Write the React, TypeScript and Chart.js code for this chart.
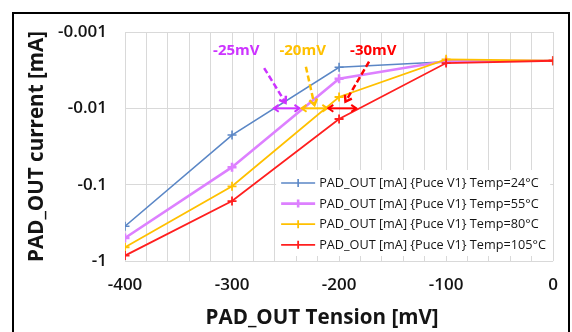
import React, { useEffect, useRef } from 'react';
import { Chart, registerables } from 'chart.js';

Chart.register(...registerables);

// ---- data ----
const tensionMv = [-400, -300, -200, -100, 0];
const seriesLabels = [
  'PAD_OUT [mA] {Puce V1} Temp=24°C',
  'PAD_OUT [mA] {Puce V1} Temp=55°C',
  'PAD_OUT [mA] {Puce V1} Temp=80°C',
  'PAD_OUT [mA] {Puce V1} Temp=105°C',
];
const current24 = [-0.35, -0.0224, -0.0029, -0.00245, -0.00238];
const current55 = [-0.5, -0.059, -0.0041, -0.0024, -0.00238];
const current80 = [-0.66, -0.105, -0.0071, -0.00228, -0.00238];
const current105 = [-0.85, -0.164, -0.0138, -0.00255, -0.00238];
const seriesColors = ['#5B87C6', '#DD80FF', '#FFC000', '#FF1F1F'];
const seriesWidths = [1.6, 2.6, 1.8, 1.8];

const yTickValues = [-0.001, -0.01, -0.1, -1];
const xLabelStep = 100;
const xGridStep = 20;

// annotations (data units: mV, mA)
const annotationTexts = ['-25mV', '-20mV', '-30mV'];
const annotationColors = ['#CC33FF', '#FFC000', '#FF0000'];
const textPosMv = [-296, -234, -168];
const textPosMa = -0.00176;
const pointerFromMv = [-270, -231, -172];
const pointerFromMa = [-0.00297, -0.00285, -0.00245];
const pointerToMv = [-250, -223, -194];
const pointerToMa = [-0.00845, -0.00906, -0.00819];
const spanStartMv = [-261, -235, -210];
const spanEndMv = [-237, -211, -184];
const spanMa = -0.01;

const xTitle = 'PAD_OUT Tension [mV]';
const yTitle = 'PAD_OUT current [mA]';

const FONT = '"Open Sans", "Noto Sans", sans-serif';
const TEXT = '#141414';

function drawHead(ctx: CanvasRenderingContext2D, x1: number, y1: number, x2: number, y2: number, size: number) {
  const a = Math.atan2(y2 - y1, x2 - x1);
  const s = 0.6;
  ctx.beginPath();
  ctx.moveTo(x2 - size * Math.cos(a - s), y2 - size * Math.sin(a - s));
  ctx.lineTo(x2, y2);
  ctx.lineTo(x2 - size * Math.cos(a + s), y2 - size * Math.sin(a + s));
  ctx.stroke();
}

const decorPlugin = {
  id: 'decor',
  beforeDraw(chart: any) {
    const ctx = chart.ctx as CanvasRenderingContext2D;
    ctx.save();
    ctx.fillStyle = '#ffffff';
    ctx.fillRect(0, 0, chart.width, chart.height);
    ctx.restore();
  },
  afterDatasetsDraw(chart: any) {
    const ctx = chart.ctx as CanvasRenderingContext2D;
    const xs = chart.scales.x;
    const ys = chart.scales.y;
    const area = chart.chartArea;
    ctx.save();

    // annotations
    for (let i = 0; i < annotationTexts.length; i++) {
      const col = annotationColors[i];
      ctx.fillStyle = col;
      ctx.strokeStyle = col;
      ctx.font = `bold 15px ${FONT}`;
      ctx.textAlign = 'center';
      ctx.textBaseline = 'middle';
      ctx.fillText(annotationTexts[i], xs.getPixelForValue(textPosMv[i]), ys.getPixelForValue(-textPosMa));

      const fx = xs.getPixelForValue(pointerFromMv[i]);
      const fy = ys.getPixelForValue(-pointerFromMa[i]);
      const tx = xs.getPixelForValue(pointerToMv[i]);
      const ty = ys.getPixelForValue(-pointerToMa[i]);
      ctx.lineWidth = 2.5;
      ctx.setLineDash([6, 3]);
      ctx.beginPath();
      ctx.moveTo(fx, fy);
      ctx.lineTo(tx, ty);
      ctx.stroke();
      ctx.setLineDash([]);
      drawHead(ctx, fx, fy, tx, ty, 7);

      const sx = xs.getPixelForValue(spanStartMv[i]);
      const ex = xs.getPixelForValue(spanEndMv[i]);
      const sy = ys.getPixelForValue(-spanMa);
      ctx.lineWidth = 2;
      ctx.beginPath();
      ctx.moveTo(sx, sy);
      ctx.lineTo(ex, sy);
      ctx.stroke();
      drawHead(ctx, ex, sy, sx, sy, 6);
      drawHead(ctx, sx, sy, ex, sy, 6);
    }

    // legend
    const lx = area.right - 277;
    const ly = area.bottom - 91;
    ctx.fillStyle = '#ffffff';
    ctx.fillRect(lx, ly, 274, 86);
    const rowY0 = ly + 13;
    const rowStep = 20.6;
    chart.data.datasets.forEach((ds: any, i: number) => {
      const y = rowY0 + i * rowStep;
      ctx.strokeStyle = seriesColors[i];
      ctx.lineWidth = seriesWidths[i];
      ctx.beginPath();
      ctx.moveTo(lx + 5, y);
      ctx.lineTo(lx + 39, y);
      ctx.moveTo(lx + 22, y - 4);
      ctx.lineTo(lx + 22, y + 4);
      ctx.stroke();
      ctx.fillStyle = TEXT;
      ctx.font = `12.7px ${FONT}`;
      ctx.textAlign = 'left';
      ctx.textBaseline = 'middle';
      ctx.fillText(ds.label, lx + 43, y + 0.5);
    });

    ctx.restore();
  },
  afterDraw(chart: any) {
    const ctx = chart.ctx as CanvasRenderingContext2D;
    const area = chart.chartArea;
    ctx.save();
    ctx.fillStyle = TEXT;
    ctx.font = `bold 20.6px ${FONT}`;
    ctx.textAlign = 'center';
    ctx.textBaseline = 'middle';
    ctx.fillText(xTitle, (area.left + area.right) / 2 - 17, 318);
    ctx.translate(37, (area.top + area.bottom) / 2);
    ctx.rotate(-Math.PI / 2);
    ctx.fillText(yTitle, 0, 0);
    ctx.restore();

    ctx.save();
    ctx.strokeStyle = '#000000';
    ctx.lineWidth = 2;
    ctx.strokeRect(13, 13, 556, 340);
    ctx.restore();
  },
};

export default function App() {
  const ref = useRef<HTMLCanvasElement | null>(null);

  useEffect(() => {
    const canvas = ref.current;
    if (!canvas) return;
    const series = [current24, current55, current80, current105];
    const chart = new Chart(canvas, {
      type: 'line',
      data: {
        datasets: series.map((vals, i) => ({
          label: seriesLabels[i],
          data: tensionMv.map((x, j) => ({ x, y: -vals[j] })),
          borderColor: seriesColors[i],
          backgroundColor: seriesColors[i],
          borderWidth: seriesWidths[i],
          pointStyle: 'cross',
          pointRadius: 4.5,
          pointBorderWidth: seriesWidths[i],
          pointBorderColor: seriesColors[i],
          tension: 0,
          fill: false,
          order: series.length - 1 - i,
        })),
      },
      options: {
        responsive: false,
        animation: false,
        devicePixelRatio: 1,
        layout: { padding: { left: 0, top: 32, right: 17, bottom: 0 } },
        plugins: {
          legend: { display: false },
          tooltip: { enabled: false },
        },
        scales: {
          x: {
            type: 'linear',
            min: -400,
            max: 0,
            afterFit: (s: any) => { s.height = 71; },
            ticks: {
              stepSize: xGridStep,
              autoSkip: false,
              maxRotation: 0,
              padding: 14,
              color: TEXT,
              font: { family: FONT, size: 17, weight: '600' },
              callback: (v: any) => (Math.round(Number(v)) % xLabelStep === 0 ? String(Math.round(Number(v))) : ''),
            },
            grid: { color: '#D9D9D9', lineWidth: 1, drawTicks: false },
            border: { display: false },
          },
          y: {
            type: 'logarithmic',
            reverse: true,
            min: 0.001,
            max: 1,
            afterFit: (s: any) => { s.width = 125; },
            afterBuildTicks: (s: any) => { s.ticks = yTickValues.map((v) => ({ value: -v })); },
            ticks: {
              padding: 18,
              color: TEXT,
              font: { family: FONT, size: 17, weight: '600' },
              callback: (v: any) => String(-Number(v)),
            },
            grid: { color: '#D9D9D9', lineWidth: 1, drawTicks: false },
            border: { display: false },
          },
        },
      },
      plugins: [decorPlugin],
    } as any);
    return () => chart.destroy();
  }, []);

  return (
    <div style={{ position: 'fixed', left: 0, top: 0, width: 572, height: 332, background: '#fff' }}>
      <canvas ref={ref} width={572} height={332} style={{ display: 'block', width: 572, height: 332 }} />
    </div>
  );
}
